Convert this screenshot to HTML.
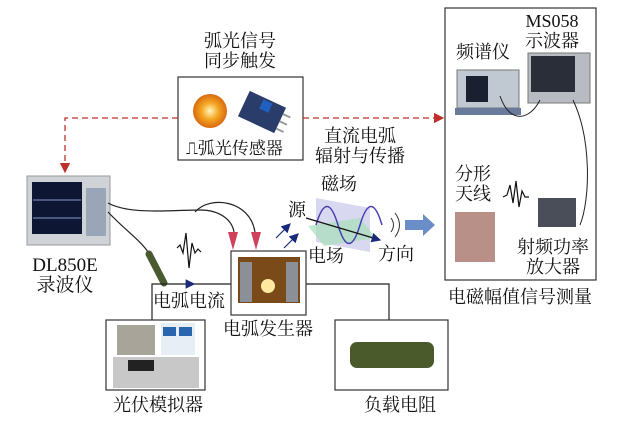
<!DOCTYPE html>
<html><head><meta charset="utf-8"><style>
body{margin:0;background:#fff;}
svg text{font-family:"Liberation Serif","Noto Serif CJK SC","Noto Sans CJK SC",serif;fill:#111;}
</style></head><body>
<svg width="640" height="423" viewBox="0 0 640 423" xmlns="http://www.w3.org/2000/svg">
<defs>
<radialGradient id="orb" cx="50%" cy="50%" r="50%"><stop offset="0" stop-color="#fff6c0"/><stop offset="0.5" stop-color="#f5a623"/><stop offset="1" stop-color="#d86a10"/></radialGradient>
<marker id="ra" markerWidth="8" markerHeight="8" refX="7" refY="4" orient="auto"><path d="M0,0 L8,4 L0,8 z" fill="#c0302a"/></marker>
<marker id="ba" markerWidth="8" markerHeight="8" refX="7" refY="4" orient="auto"><path d="M0,0 L8,4 L0,8 z" fill="#1a2a7a"/></marker>
</defs>
<text x="240" y="47" font-size="18" text-anchor="middle">弧光信号</text>
<text x="240" y="67" font-size="18" text-anchor="middle">同步触发</text>
<!-- sensor box -->
<rect x="178" y="77" width="125" height="83" fill="#fff" stroke="#333" stroke-width="1.2"/>
<circle cx="210" cy="111" r="17" fill="url(#orb)"/>
<g transform="rotate(25 262 112)"><rect x="242" y="98" width="40" height="28" fill="#2a3d6a"/><rect x="258" y="100" width="10" height="10" fill="#2060c0"/><rect x="282" y="104" width="8" height="2" fill="#999"/><rect x="282" y="112" width="8" height="2" fill="#999"/><rect x="282" y="120" width="8" height="2" fill="#999"/></g>
<text x="186" y="154" font-size="17">⎍弧光传感器</text>
<!-- dashed red -->
<path d="M178,118 H65 V172" fill="none" stroke="#c0302a" stroke-width="1.3" stroke-dasharray="6,4" marker-end="url(#ra)"/>
<path d="M303,118 H443" fill="none" stroke="#c0302a" stroke-width="1.3" stroke-dasharray="6,4" marker-end="url(#ra)"/>
<text x="360" y="142" font-size="18" text-anchor="middle">直流电弧</text>
<text x="360" y="162" font-size="18" text-anchor="middle">辐射与传播</text>
<!-- DL850E -->
<rect x="27" y="176" width="83" height="69" fill="#cfd3d8" stroke="#999"/>
<rect x="32" y="182" width="50" height="52" fill="#0d1733"/>
<line x1="33" y1="200" x2="81" y2="200" stroke="#8899cc"/><line x1="33" y1="218" x2="81" y2="218" stroke="#8899cc"/>
<rect x="86" y="188" width="20" height="48" fill="#9aa5b8"/>
<text x="65" y="271" font-size="19" text-anchor="middle">DL850E</text>
<text x="65" y="291" font-size="19" text-anchor="middle">录波仪</text>
<!-- wires -->
<path d="M108,203 C130,215 170,210 200,210 C220,210 232,220 234,232" fill="none" stroke="#222" stroke-width="1.2"/>
<path d="M195,212 C210,195 250,200 255,232" fill="none" stroke="#222" stroke-width="1.2"/>
<path d="M108,212 C125,230 140,240 148,252" fill="none" stroke="#222" stroke-width="1.2"/>
<path d="M149,254 L164,283" stroke="#4a5a30" stroke-width="7" stroke-linecap="round"/>
<path d="M228,232 l5,18 l5,-18 z" fill="#d0405a"/><path d="M251,232 l5,18 l5,-18 z" fill="#d0405a"/>
<path d="M177,248 l3,-3 l3,8 l3,-20 l3,35 l3,-25 l3,10 l3,-4 l3,3" fill="none" stroke="#111" stroke-width="1.2"/>
<!-- circuit -->
<path d="M152,320 V284 H231" fill="none" stroke="#222" stroke-width="1.2"/>
<path d="M185,284 H194" stroke="#1a2a7a" stroke-width="1.2" marker-end="url(#ba)"/>
<path d="M306,284 H389 V320" fill="none" stroke="#222" stroke-width="1.2"/>
<text x="153" y="307" font-size="18">电弧电流</text>
<!-- arc generator -->
<rect x="231" y="251" width="75" height="64" fill="#fff" stroke="#333" stroke-width="1.2"/>
<rect x="238" y="257" width="62" height="46" fill="#7a4a18"/>
<rect x="240" y="262" width="12" height="40" fill="#8a8f98"/><rect x="286" y="262" width="12" height="40" fill="#8a8f98"/>
<circle cx="268" cy="286" r="7" fill="#ffe8a0"/>
<text x="268" y="335" font-size="18" text-anchor="middle">电弧发生器</text>
<!-- PV -->
<rect x="106" y="320" width="99" height="70" fill="#fff" stroke="#333" stroke-width="1.2"/>
<rect x="117" y="325" width="38" height="30" fill="#a8a49a"/>
<rect x="161" y="323" width="34" height="32" fill="#e8eef5"/><rect x="163" y="327" width="13" height="9" fill="#2a66b0"/><rect x="179" y="327" width="13" height="9" fill="#2a66b0"/>
<rect x="113" y="357" width="86" height="31" fill="#c8c8c8"/><rect x="128" y="360" width="26" height="11" fill="#222"/>
<text x="158" y="411" font-size="18" text-anchor="middle">光伏模拟器</text>
<!-- load -->
<rect x="335" y="320" width="113" height="70" fill="#fff" stroke="#333" stroke-width="1.2"/>
<rect x="350" y="342" width="84" height="26" rx="7" fill="#4a5a2a"/>
<text x="400" y="411" font-size="18" text-anchor="middle">负载电阻</text>
<!-- EM wave -->
<path d="M276,238 L290,224" stroke="#1a2a7a" stroke-width="1.2" marker-end="url(#ba)"/>
<path d="M284,248 L298,234" stroke="#1a2a7a" stroke-width="1.2" marker-end="url(#ba)"/>
<polygon points="316,198 370,208 370,252 316,242" fill="#c8c8ea" opacity="0.7"/>
<polygon points="308,226 360,218 376,238 324,246" fill="#a8e0b8" opacity="0.7"/>
<path d="M316,225 Q327,188 338,225 T360,225 T382,225" fill="none" stroke="#4a40b0" stroke-width="1.5"/>
<path d="M306,218 L380,240" stroke="#111" stroke-width="1.2" marker-end="url(#ba)"/>
<text x="288" y="216" font-size="18">源</text>
<text x="321" y="190" font-size="18">磁场</text>
<text x="308" y="262" font-size="18">电场</text>
<text x="378" y="260" font-size="18">方向</text>
<path d="M391,218 q5,7 0,14 M395,213 q9,12 0,24" fill="none" stroke="#333"/>
<polygon points="405,220 423,220 423,214 435,225 423,236 423,230 405,230" fill="#6a8ec8"/>
<!-- right box -->
<rect x="445" y="8" width="151" height="272" fill="#fff" stroke="#333" stroke-width="1.2"/>
<text x="552" y="27" font-size="18" text-anchor="middle">MS058</text>
<text x="552" y="47" font-size="18" text-anchor="middle">示波器</text>
<text x="483" y="58" font-size="18" text-anchor="middle">频谱仪</text>
<rect x="457" y="70" width="62" height="38" fill="#c0c8d2" stroke="#777"/><rect x="466" y="76" width="22" height="26" fill="#1a2030"/>
<rect x="455" y="108" width="66" height="7" fill="#6a7a9a"/>
<rect x="528" y="53" width="62" height="50" fill="#b8bcc2" stroke="#777"/><rect x="531" y="56" width="44" height="36" fill="#2a2e38"/>
<path d="M500,96 C510,125 530,120 540,100 M573,100 C592,140 590,200 580,225" fill="none" stroke="#222"/>
<text x="473" y="180" font-size="18" text-anchor="middle">分形</text>
<text x="473" y="200" font-size="18" text-anchor="middle">天线</text>
<rect x="455" y="212" width="40" height="50" fill="#b89088"/>
<path d="M503,197 l4,-2 l3,-10 l3,18 l3,-22 l3,26 l3,-16 l3,6 l4,0" fill="none" stroke="#111" stroke-width="1.2"/>
<rect x="538" y="198" width="38" height="29" fill="#4a4e58"/>
<text x="553" y="253" font-size="18" text-anchor="middle">射频功率</text>
<text x="553" y="273" font-size="18" text-anchor="middle">放大器</text>
<text x="520" y="303" font-size="18" text-anchor="middle">电磁幅值信号测量</text>
</svg>
</body></html>
